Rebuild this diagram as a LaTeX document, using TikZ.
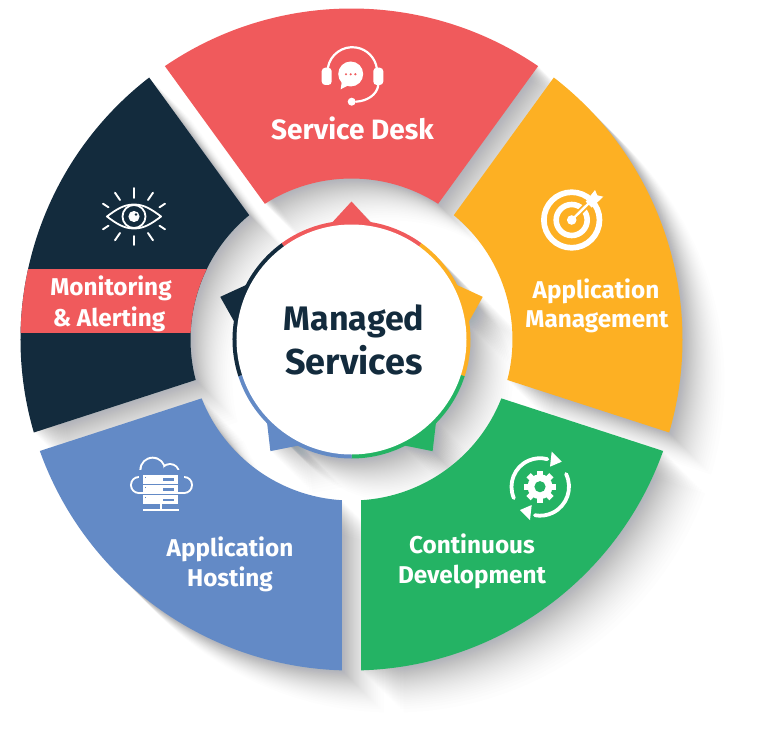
\documentclass[tikz,border=0pt]{standalone}
\usepackage{fontspec}
\setmainfont{Fira Sans}
\definecolor{cred}{HTML}{F05A5C}
\definecolor{cyel}{HTML}{FDB023}
\definecolor{cgrn}{HTML}{24B364}
\definecolor{cblu}{HTML}{638AC6}
\definecolor{cnav}{HTML}{132B3D}
\definecolor{cshd}{HTML}{2A3A45}
\newcommand{\sectorpath}[1]{({#1+34.32}:331) arc[start angle={#1+34.32},end angle={#1-34.32},radius=331pt] -- ({#1-32.55}:161) arc[start angle={#1-32.55},end angle={#1+32.55},radius=161pt] -- cycle}
\newcommand{\ptrpath}[1]{({#1+10.4}:117) -- (#1:138) -- ({#1-10.4}:117) -- cycle}
\newcommand{\longshadow}[1]{\foreach \i in {1,...,39}{\pgfmathsetmacro\sv{50*(1-sqrt(1-\i/40))}\fill[cshd,opacity=.008,shift={(\sv pt,-\sv pt)}] #1;}}
\tikzset{
  lbl/.style={text=white,font=\bfseries\fontsize{24.3}{24.3}\selectfont,inner sep=0pt,anchor=center},
  ttl/.style={text=cnav,font=\bfseries\fontsize{34}{34}\selectfont,inner sep=0pt,anchor=center},
  ic/.style={draw=white,line width=2pt,line cap=round},
}
\begin{document}
\begin{tikzpicture}[x=1pt,y=1pt]
\useasboundingbox (-351.5,-391.5) rectangle (416.5,339.5);
\fill[white] (-351.5,-391.5) rectangle (416.5,339.5);
% long shadows
\longshadow{\sectorpath{90}}
\longshadow{\sectorpath{18}}
\longshadow{\sectorpath{-54}}
\longshadow{\sectorpath{-126}}
\longshadow{\sectorpath{162}}
\longshadow{(0,0) circle[radius=119pt]}
\foreach \a in {90,18,-54,-126,162}{\longshadow{\ptrpath{\a}}}
% sectors
\fill[cred] \sectorpath{90};
\fill[cyel] \sectorpath{18};
\fill[cgrn] \sectorpath{-54};
\fill[cblu] \sectorpath{-126};
\fill[cnav] \sectorpath{162};
\begin{scope}
\clip \sectorpath{162};
\fill[cred] (-351.5,70.5) rectangle (0,6.5);
\end{scope}
% pointers and ring
\foreach \a/\c in {90/cred,18/cyel,-54/cgrn,-126/cblu,162/cnav}{
  \fill[\c] \ptrpath{\a};
  \fill[\c] (0,0) -- ({\a+36}:119) arc[start angle={\a+36},end angle={\a-36},radius=119pt] -- cycle;
}
\node[circle,fill=white,minimum size=230pt,inner sep=0pt] (hub) at (0,0) {};
% texts
\node[ttl] (t1) at (2.5,18) {Managed};
\node[ttl,font=\bfseries\fontsize{36}{36}\selectfont] (t2) at (2.5,-21) {Services};
\node[lbl,font=\bfseries\fontsize{28}{28}\selectfont] (a1) at (1,211.5) {Service Desk};
\node[lbl] (b1) at (244.5,48.5) {Application};
\node[lbl] (b2) at (245.5,17.5) {Management};
\node[lbl] (c1) at (120.5,-204) {Continuous};
\node[lbl] (c2) at (120.5,-237) {Development};
\node[lbl] (d1) at (-121.5,-209.5) {Application};
\node[lbl] (d2) at (-121.5,-239.5) {Hosting};
\node[lbl] (e1) at (-240.5,51.5) {Monitoring};
\node[lbl] (e2) at (-242.5,20.5) {\& Alerting};
% icons, in image pixel coordinates
\begin{scope}[shift={(-351.5,339.5)},yscale=-1]
% headset
\draw[ic,line width=2.2pt] ([shift=(189:24.8pt)]352.3,72) arc[start angle=189,end angle=351,radius=24.8pt];
\fill[white,rounded corners=3.5pt] (321.7,67.7) rectangle (331.7,85);
\fill[white,rounded corners=3.5pt] (373.3,67.7) rectangle (383.3,85);
\fill[white] (350.7,74) circle[radius=12.5pt];
\fill[white] (342,80) -- (340.7,89.3) -- (349,85) -- cycle;
\foreach \x in {346,350.7,355.4}{\fill[cred] (\x,74.3) circle[radius=1.2pt];}
\draw[ic,line width=2.2pt] (378.3,85) .. controls (377,95) and (367,101) .. (356,101.7);
\fill[white] (351.7,101.7) circle[radius=4pt];
% target
\draw[white,line width=5.7pt] (571.7,220) circle[radius=27.8pt];
\draw[white,line width=5.6pt] (571.7,220) circle[radius=15.5pt];
\draw[cyel,line width=6pt] (571.7,220) -- (592,200);
\fill[white] (571.7,220) circle[radius=4.8pt];
\draw[white,line width=2.4pt] (571.7,220) -- (589,203);
\fill[white] (585.7,201.7) -- (595,190) -- (597.3,195.3) -- (603.3,196.7) -- (591.7,207.7) -- cycle;
% gear and arrows
\foreach \a in {0,45,...,315}{\fill[white,shift={(540,486.7)},rotate=\a] (-3,9) rectangle (3,16.2);}
\fill[white] (540,486.7) circle[radius=12.5pt];
\fill[cgrn] (540,486.7) circle[radius=5.6pt];
\draw[ic,line width=3.8pt] ([shift=(156.5:28.5pt)]540,486.7) arc[start angle=156.5,end angle=285,radius=28.5pt];
\draw[ic,line width=3.8pt] ([shift=(-26:29pt)]540,486.7) arc[start angle=-26,end angle=100,radius=29pt];
\fill[white] (551.7,451.7) -- (561.7,461.7) -- (550,466.7) -- cycle;
\fill[white] (520,510) -- (531.7,505) -- (530,520) -- cycle;
% cloud and server
\fill[white] (139,485) circle[radius=9pt];
\fill[white] (152.7,470) circle[radius=13.3pt];
\fill[white] (170,473) circle[radius=10pt];
\fill[white] (184,485) circle[radius=9pt];
\fill[white] (139,470) rectangle (184,494);
\fill[cblu] (139,485) circle[radius=7pt];
\fill[cblu] (152.7,470) circle[radius=11.3pt];
\fill[cblu] (170,473) circle[radius=8pt];
\fill[cblu] (184,485) circle[radius=7pt];
\fill[cblu] (139,470) rectangle (184,492);
\foreach \y in {475,485.1,495.2}{
  \fill[white] (143,\y) rectangle (178.5,\y+8.8);
  \fill[cblu] (163.3,\y+3.3) rectangle (174,\y+5.5);
  \fill[cblu] (145,\y+1.5) rectangle (146.5,\y+3);
}
\fill[white] (160.2,504) rectangle (162,510);
\fill[white] (142.7,509) rectangle (179.3,511);
% eye
\draw[ic,line width=1.8pt,line join=round] (106.9,216.5) .. controls (117,209) and (124,204.5) .. (134,204.5) .. controls (144,204.5) and (151,209) .. (161.1,216.5) .. controls (151,224) and (144,228.5) .. (134,228.5) .. controls (124,228.5) and (117,224) .. (106.9,216.5) -- cycle;
\draw[ic,line width=1.8pt] (134,216.5) circle[radius=11.5pt];
\fill[white] (134,216.5) circle[radius=5.6pt];
\fill[cnav] (136,214.5) circle[radius=1.3pt];
\foreach \sx/\sy in {1/1,-1/1,1/-1,-1/-1}{
  \begin{scope}[shift={(134,216.5)},xscale=\sx,yscale=\sy]
  \draw[ic,line width=1.9pt] (14,-16.5) -- (19,-23.8);
  \draw[ic,line width=1.9pt] (25.5,-9.2) -- (31,-12.8);
  \end{scope}
}
\draw[ic,line width=1.9pt] (134,188) -- (134,198);
\draw[ic,line width=1.9pt] (134,236) -- (134,245);
\end{scope}
\end{tikzpicture}
\end{document}
